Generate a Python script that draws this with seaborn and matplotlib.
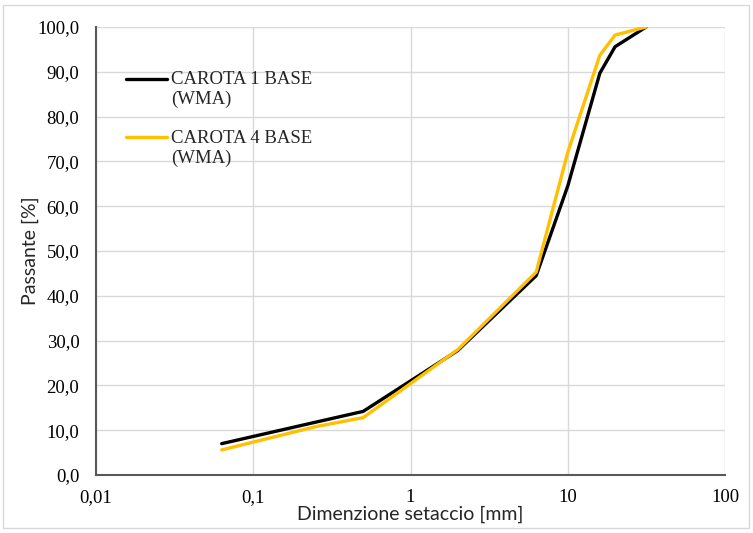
import matplotlib
matplotlib.use("Agg")
import matplotlib.pyplot as plt
from matplotlib.patches import Rectangle
from matplotlib.ticker import FixedLocator, FuncFormatter, NullLocator
import numpy as np
import pandas as pd
import seaborn as sns

# Sieve sizes [mm] and cumulative passing [%]
sieve_mm = [0.063, 0.25, 0.5, 2.0, 6.3, 10.0, 16.0, 20.0, 31.5]
carota_1 = [7.0, 11.8, 14.2, 27.8, 44.5, 64.5, 89.7, 95.6, 100.0]
carota_4 = [5.6, 10.8, 12.8, 28.0, 45.3, 72.0, 93.7, 98.2, 100.0]
series_names = ["CAROTA 1 BASE\n(WMA)", "CAROTA 4 BASE\n(WMA)"]
series_colors = ["#000000", "#FFC000"]
x_ticks = [0.01, 0.1, 1, 10, 100]
y_ticks = [0, 10, 20, 30, 40, 50, 60, 70, 80, 90, 100]

df = pd.concat([
    pd.DataFrame({"size": sieve_mm, "passing": carota_1, "serie": series_names[0]}),
    pd.DataFrame({"size": sieve_mm, "passing": carota_4, "serie": series_names[1]}),
])

sns.set_style("white")
serif = ["Liberation Serif", "DejaVu Serif"]
sans = ["Lato", "DejaVu Sans"]

W, H = 753, 533
fig = plt.figure(figsize=(W / 100, H / 100), dpi=100)
fig.patches.append(Rectangle((3 / W, 5 / H), 746 / W, 523 / H, transform=fig.transFigure,
                             fill=False, edgecolor="#d9d9d9", linewidth=1.0))
ax = fig.add_axes([96 / W, (H - 475) / H, 629 / W, 448 / H])

sns.lineplot(data=df, x="size", y="passing", hue="serie", palette=series_colors,
             hue_order=series_names, linewidth=2.4, sort=False, estimator=None,
             ax=ax, legend=True)

ax.set_xscale("log")
ax.set_xlim(0.01, 100)
ax.set_ylim(0, 100)
ax.xaxis.set_major_locator(FixedLocator(x_ticks))
ax.xaxis.set_minor_locator(NullLocator())
ax.yaxis.set_major_locator(FixedLocator(y_ticks))
ax.xaxis.set_major_formatter(FuncFormatter(lambda v, p: f"{v:g}".replace(".", ",")))
ax.yaxis.set_major_formatter(FuncFormatter(lambda v, p: f"{v:.1f}".replace(".", ",")))

ax.grid(True, color="#d9d9d9", linewidth=1.0)
ax.set_axisbelow(True)
for side in ("top", "right"):
    ax.spines[side].set_visible(False)
for side in ("left", "bottom"):
    ax.spines[side].set_color("#595959")
    ax.spines[side].set_linewidth(1.5)
ax.tick_params(axis="both", length=0, labelsize=13.5, colors="#000000")
ax.tick_params(axis="y", pad=12)
ax.tick_params(axis="x", pad=10)
for lbl in ax.get_xticklabels() + ax.get_yticklabels():
    lbl.set_fontfamily(serif)

ax.set_xlabel("Dimenzione setaccio [mm]", fontsize=14, family=sans, labelpad=0)
ax.set_ylabel("Passante [%]", fontsize=14, family=sans, labelpad=-1.5)

leg = ax.legend(loc="upper left", bbox_to_anchor=(0.035, 0.918), frameon=False,
                prop={"family": serif, "size": 13.5}, handlelength=2.2,
                handletextpad=0.25, labelspacing=1.15, borderaxespad=0)
# keep each legend line level with the first row of its label
for h in leg.get_lines():
    h.set_linewidth(2.4)
    h.set_ydata(np.asarray(h.get_ydata()) + 8)

fig.savefig("out.png", dpi=100)
